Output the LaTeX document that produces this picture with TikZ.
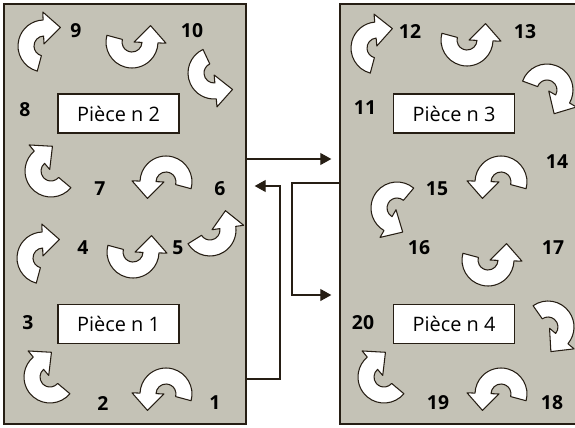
\documentclass[tikz,border=0pt]{standalone}
\usepackage{fontspec}
\setmainfont{Open Sans}
\usetikzlibrary{calc,arrows.meta}
\definecolor{fond}{RGB}{196,194,182}
\definecolor{trait}{RGB}{38,30,20}
% band radii of the turning arrows (outer, mid, inner), barbs and head length
\def\Ro{26}\def\Rm{18}\def\Ri{10}\def\Rb{34}\def\rb{2}\def\hl{17}
\def\tourne(#1,#2)(#3:#4){%
  \pgfmathsetmacro\dirang{#4+180*(#4>#3)-90}%
  \begin{scope}[shift={(#1,427-#2)}]
    \draw[fleche] (#3:\Ro) arc[start angle=#3,end angle=#4,radius=\Ro]
      -- (#4:\Rb) -- ($(#4:\Rm)+(\dirang:\hl)$) -- (#4:\rb) -- (#4:\Ri)
      arc[start angle=#4,end angle=#3,radius=\Ri] -- cycle;
  \end{scope}}
\tikzset{
  salle/.style={draw=trait,fill=fond,line width=1.2pt,inner sep=0pt},
  piece/.style={draw=trait,fill=white,line width=1pt,inner sep=0pt,
    minimum width=36.3mm,minimum height=11.7mm,font=\fontsize{17}{17}\selectfont},
  num/.style={font=\fontsize{16.5}{16.5}\selectfont\bfseries,text=black},
  fleche/.style={draw=trait,fill=white,line width=0.9pt,line join=round},
  flow/.style={draw=trait,line width=0.9pt,-{Triangle[length=3.3mm,width=3.6mm]},shorten >=2.4mm}
}
\begin{document}
\begin{tikzpicture}[x=0.3mm,y=0.3mm]
  \useasboundingbox (0,0) rectangle (575,427);
  %%%%% START %%%%%
  \node[salle,minimum width=72.6mm,minimum height=126mm] (gauche) at (125,213) {};
  \node[salle,minimum width=72mm,minimum height=126mm] (droite) at (460,213) {};

  \node[piece] (p2) at (118.5,313.5) {Pièce n 2};
  \node[piece] (p1) at (118.5,103) {Pièce n 1};
  \node[piece] (p3) at (454,313.5) {Pièce n 3};
  \node[piece] (p4) at (454,103) {Pièce n 4};

  % left room
  \tourne(44,46)(255:92)
  \tourne(132,42)(165:358)
  \tourne(214,73)(115:275)
  \tourne(51,171)(320:130)
  \tourne(166,182)(-15:178)
  \tourne(210,230)(212:368)
  \tourne(43,258)(255:92)
  \tourne(133,252)(165:358)
  \tourne(50,377)(320:130)
  \tourne(166,394)(-15:178)
  % right room
  \tourne(377,48)(255:95)
  \tourne(467,40)(165:358)
  \tourne(547,90)(160:-30)
  \tourne(501,182)(-15:178)
  \tourne(397,208)(50:240)
  \tourne(488,260)(165:358)
  \tourne(548,327)(125:-40)
  \tourne(384,377)(320:130)
  \tourne(501,394)(-15:178)

  \node[num] (n1) at (215,24) {1};
  \node[num] (n2) at (103,24) {2};
  \node[num] (n3) at (28,104) {3};
  \node[num] (n4) at (83,179) {4};
  \node[num] (n5) at (178,179) {5};
  \node[num] (n6) at (220,238) {6};
  \node[num] (n7) at (100,238) {7};
  \node[num] (n8) at (25,317) {8};
  \node[num] (n9) at (76,396) {9};
  \node[num] (n10) at (192,396) {10};
  \node[num] (n11) at (365,319) {11};
  \node[num] (n12) at (410,395) {12};
  \node[num] (n13) at (525,395) {13};
  \node[num] (n14) at (557,265) {14};
  \node[num] (n15) at (437,238) {15};
  \node[num] (n16) at (419,179) {16};
  \node[num] (n17) at (553,179) {17};
  \node[num] (n18) at (552,24) {18};
  \node[num] (n19) at (438,24) {19};
  \node[num] (n20) at (363,104) {20};

  % passages between the rooms
  \draw[flow] (gauche.east |- 0,268) -- (droite.west |- 0,268);
  \draw[flow] (droite.west |- 0,244) -| (292,132) -- (droite.west |- 0,132);
  \draw[flow] (gauche.east |- 0,48) -| (280,241) -- (gauche.east |- 0,241);
  %%%%% END %%%%%
\end{tikzpicture}
\end{document}
